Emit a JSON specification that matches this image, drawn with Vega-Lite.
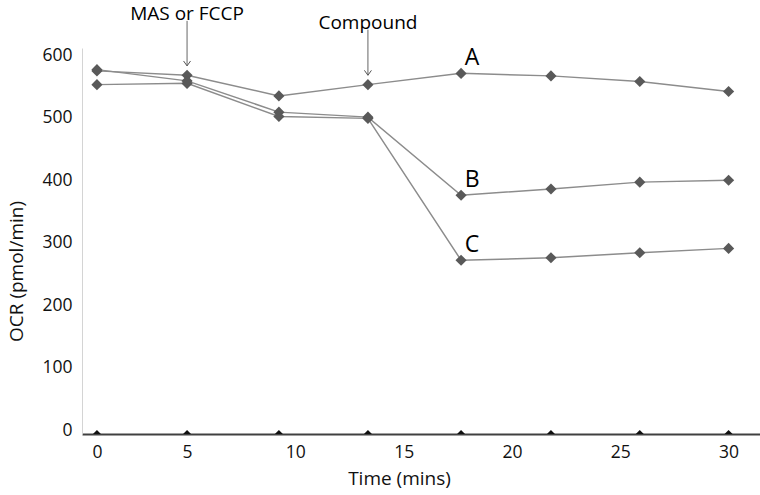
{
  "$schema": "https://vega.github.io/schema/vega-lite/v6.json",
  "width": 678,
  "height": 386,
  "autosize": "none",
  "padding": {"left": 82, "top": 48, "right": 0, "bottom": 61},
  "background": "white",
  "config": {"font": "Open Sans", "view": {"stroke": null}},
  "datasets": {
    "ocr": [
      {"series": "A", "time": 0.84, "ocr": 581},
      {"series": "A", "time": 5.0, "ocr": 574},
      {"series": "A", "time": 9.24, "ocr": 541},
      {"series": "A", "time": 13.35, "ocr": 559},
      {"series": "A", "time": 17.65, "ocr": 577},
      {"series": "A", "time": 21.8, "ocr": 573},
      {"series": "A", "time": 25.9, "ocr": 564},
      {"series": "A", "time": 30.0, "ocr": 548},
      {"series": "B", "time": 0.84, "ocr": 583},
      {"series": "B", "time": 5.0, "ocr": 565},
      {"series": "B", "time": 9.24, "ocr": 515},
      {"series": "B", "time": 13.35, "ocr": 507},
      {"series": "B", "time": 17.65, "ocr": 382},
      {"series": "B", "time": 21.8, "ocr": 392},
      {"series": "B", "time": 25.9, "ocr": 403},
      {"series": "B", "time": 30.0, "ocr": 406},
      {"series": "C", "time": 0.84, "ocr": 559},
      {"series": "C", "time": 5.0, "ocr": 561},
      {"series": "C", "time": 9.24, "ocr": 508},
      {"series": "C", "time": 13.35, "ocr": 505},
      {"series": "C", "time": 17.65, "ocr": 278},
      {"series": "C", "time": 21.8, "ocr": 282},
      {"series": "C", "time": 25.9, "ocr": 290},
      {"series": "C", "time": 30.0, "ocr": 297}
    ],
    "zero": [
      {"series": "0", "time": 0.84, "ocr": 0},
      {"series": "0", "time": 5.0, "ocr": 0},
      {"series": "0", "time": 9.24, "ocr": 0},
      {"series": "0", "time": 13.35, "ocr": 0},
      {"series": "0", "time": 17.65, "ocr": 0},
      {"series": "0", "time": 21.8, "ocr": 0},
      {"series": "0", "time": 25.9, "ocr": 0},
      {"series": "0", "time": 30.0, "ocr": 0}
    ],
    "events": [
      {"event": "MAS or FCCP", "time": 5.0, "top": 661, "tip": 589},
      {"event": "Compound", "time": 13.35, "top": 647, "tip": 574}
    ]
  },
  "layer": [
    {
      "data": {"name": "ocr"},
      "mark": {"type": "line", "color": "#8c8c8c", "strokeWidth": 1.5},
      "encoding": {
        "x": {
          "field": "time", "type": "quantitative",
          "scale": {"domain": [0.15, 31.45], "nice": false, "zero": false},
          "axis": {
            "title": "Time (mins)",
            "values": [0.84, 5, 10, 15, 20, 25, 30],
            "labelExpr": "datum.value < 1 ? '0' : datum.label",
            "ticks": false, "grid": false,
            "domainColor": "#404040", "domainWidth": 2,
            "labelFontSize": 17.5, "labelColor": "#111111", "labelPadding": 9,
            "titleFontSize": 19, "titleFontWeight": "normal", "titleColor": "#111111",
            "titleX": 317, "titleY": 44, "titleBaseline": "middle", "titleAlign": "center"
          }
        },
        "y": {
          "field": "ocr", "type": "quantitative",
          "scale": {"domain": [0, 617.6], "nice": false},
          "axis": {
            "title": "OCR (pmol/min)",
            "values": [0, 100, 200, 300, 400, 500, 600],
            "ticks": false, "grid": false,
            "domainColor": "#d4d4d4", "domainWidth": 1,
            "labelFontSize": 17.5, "labelColor": "#111111", "labelPadding": 10, "labelOffset": -4,
            "titleFontSize": 19, "titleFontWeight": "normal", "titleColor": "#111111",
            "titleX": -66, "titleY": 223, "titleAlign": "center", "titleBaseline": "middle", "titleAngle": -90
          }
        },
        "detail": {"field": "series"}
      }
    },
    {
      "data": {"name": "ocr"},
      "mark": {"type": "point", "shape": "diamond", "filled": true, "color": "#595959", "opacity": 1, "size": 125},
      "encoding": {
        "x": {"field": "time", "type": "quantitative", "scale": {"domain": [0.15, 31.45], "nice": false, "zero": false}},
        "y": {"field": "ocr", "type": "quantitative", "scale": {"domain": [0, 617.6], "nice": false}}
      }
    },
    {
      "data": {"name": "zero"},
      "mark": {"type": "point", "shape": "diamond", "filled": true, "color": "#111111", "opacity": 1, "size": 64, "clip": true},
      "encoding": {
        "x": {"field": "time", "type": "quantitative", "scale": {"domain": [0.15, 31.45], "nice": false, "zero": false}},
        "y": {"field": "ocr", "type": "quantitative", "scale": {"domain": [0, 617.6], "nice": false}}
      }
    },
    {
      "data": {"name": "ocr"},
      "transform": [{"filter": "datum.time > 17 && datum.time < 18"}],
      "mark": {"type": "text", "fontSize": 23, "color": "#000000", "align": "center", "baseline": "middle", "dx": 11, "dy": -15},
      "encoding": {
        "x": {"field": "time", "type": "quantitative", "scale": {"domain": [0.15, 31.45], "nice": false, "zero": false}},
        "y": {"field": "ocr", "type": "quantitative", "scale": {"domain": [0, 617.6], "nice": false}},
        "text": {"field": "series"}
      }
    },
    {
      "data": {"name": "events"},
      "mark": {"type": "rule", "color": "#666666", "strokeWidth": 1, "clip": false},
      "encoding": {
        "x": {"field": "time", "type": "quantitative", "scale": {"domain": [0.15, 31.45], "nice": false, "zero": false}},
        "y": {"field": "top", "type": "quantitative", "scale": {"domain": [0, 617.6], "nice": false}},
        "y2": {"field": "tip"}
      }
    },
    {
      "data": {"name": "events"},
      "mark": {"type": "point", "shape": "M-1,-1.4L0,0L1,-1.4", "filled": false, "color": "#555555", "strokeWidth": 1, "opacity": 1, "size": 49},
      "encoding": {
        "x": {"field": "time", "type": "quantitative", "scale": {"domain": [0.15, 31.45], "nice": false, "zero": false}},
        "y": {"field": "tip", "type": "quantitative", "scale": {"domain": [0, 617.6], "nice": false}}
      }
    },
    {
      "data": {"name": "events"},
      "mark": {"type": "text", "fontSize": 19, "color": "#000000", "align": "center", "baseline": "alphabetic", "dy": -1},
      "encoding": {
        "x": {"field": "time", "type": "quantitative", "scale": {"domain": [0.15, 31.45], "nice": false, "zero": false}},
        "y": {"field": "top", "type": "quantitative", "scale": {"domain": [0, 617.6], "nice": false}},
        "text": {"field": "event"}
      }
    }
  ]
}
